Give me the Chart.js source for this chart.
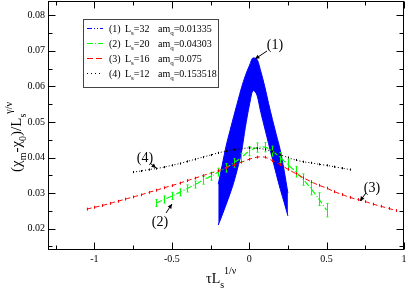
<!DOCTYPE html>
<html><head><meta charset="utf-8">
<script src="https://cdn.jsdelivr.net/npm/chart.js@4/dist/chart.umd.min.js"></script>
<style>html,body{margin:0;padding:0;background:#fff}#c{display:block}</style>
</head><body>
<div style="width:407px;height:288px"><canvas id="c" width="407" height="288"></canvas></div>
<script>
// ---- data ----
const blueX     = [-0.2,-0.175,-0.15,-0.125,-0.1,-0.075,-0.05,-0.025,0,0.025,0.05,0.075,0.1,0.125,0.15,0.175,0.2,0.225,0.25];
const blueUpper = [0.0325,0.0378,0.0431,0.0474,0.0516,0.0556,0.0596,0.0630,0.0657,0.0680,0.0676,0.0642,0.0600,0.0552,0.0507,0.0464,0.0422,0.0365,0.0300];
const blueLower = [0.0210,0.0238,0.0267,0.0297,0.0330,0.0370,0.0415,0.0485,0.0545,0.0588,0.0575,0.0527,0.0483,0.0439,0.0396,0.0353,0.0312,0.0275,0.0236];

const greenX = [-0.6,-0.55,-0.5,-0.45,-0.4,-0.35,-0.3,-0.25,-0.2,-0.15,-0.1,-0.05,0,0.05,0.1,0.15,0.2,0.25,0.3,0.35,0.4,0.45,0.5];
const greenY = [0.0272,0.0282,0.0292,0.0302,0.0313,0.0324,0.0336,0.0347,0.0359,0.0371,0.0385,0.0400,0.0418,0.0428,0.0429,0.0418,0.0400,0.0380,0.0360,0.0338,0.0312,0.0283,0.0252];
const greenErr = [0.0010,0.0010,0.0010,0.0010,0.0010,0.0010,0.0011,0.0011,0.0011,0.0012,0.0012,0.0012,0.0013,0.0013,0.0013,0.0014,0.0014,0.0015,0.0015,0.0016,0.0017,0.0018,0.0019];

const redX = [-1.05,-1.0,-0.95,-0.9,-0.85,-0.8,-0.75,-0.7,-0.65,-0.6,-0.55,-0.5,-0.45,-0.4,-0.35,-0.3,-0.25,-0.2,-0.15,-0.1,-0.05,0,0.05,0.1,0.15,0.2,0.25,0.3,0.35,0.4,0.45,0.5,0.55,0.6,0.65,0.7,0.75,0.8,0.85,0.9,0.95];
const redY = [0.0255,0.0260,0.0265,0.0271,0.0277,0.0283,0.0289,0.0295,0.0302,0.0308,0.0315,0.0321,0.0328,0.0335,0.0342,0.0349,0.0356,0.0363,0.0371,0.0379,0.0387,0.0395,0.0401,0.0401,0.0391,0.0380,0.0367,0.0355,0.0343,0.0332,0.0322,0.0314,0.0304,0.0296,0.0288,0.0282,0.0276,0.0269,0.0263,0.0257,0.0251];
const redErr = 0.0004;

const blackX = [-0.75,-0.7,-0.65,-0.6,-0.55,-0.5,-0.45,-0.4,-0.35,-0.3,-0.25,-0.2,-0.15,-0.1,-0.05,0,0.05,0.1,0.15,0.2,0.25,0.3,0.35,0.4,0.45,0.5,0.55,0.6,0.65];
const blackY = [0.0359,0.0362,0.0366,0.0369,0.0373,0.0378,0.0383,0.0389,0.0395,0.0401,0.0407,0.0413,0.0418,0.0422,0.0425,0.0427,0.0426,0.0423,0.0417,0.0408,0.0400,0.0393,0.0388,0.0385,0.0381,0.0378,0.0374,0.0370,0.0366];
const blackErr = 0.0003;

const xTickValues = [-1,-0.5,0,0.5,1];
const xTickLabels = ['-1','-0.5','0','0.5','1'];
const xMinorTicks = [-1.25,-0.75,-0.25,0.25,0.75];
const yTickValues = [0.02,0.03,0.04,0.05,0.06,0.07,0.08];
const yTickLabels = ['0.02','0.03','0.04','0.05','0.06','0.07','0.08'];
const yMinorTicks = [0.015,0.025,0.035,0.045,0.055,0.065,0.075];

const legendRows = [
  {n:'(1)', L:'32', m:'0.01335', color:'#0000ff', dash:[5,2,1,2,1,2]},
  {n:'(2)', L:'20', m:'0.04303', color:'#00ff00', dash:[6,2,1,2]},
  {n:'(3)', L:'16', m:'0.075',   color:'#ff0000', dash:[6,3]},
  {n:'(4)', L:'12', m:'0.153518',color:'#000000', dash:[1,3]}
];
const annotations = [
  {t:'(1)', x:275, y:45, ax1:267, ay1:51, ax2:255, ay2:59},
  {t:'(4)', x:145, y:158, ax1:150, ay1:163, ax2:156, ay2:168},
  {t:'(2)', x:160, y:222, ax1:166, ay1:213, ax2:172, ay2:204},
  {t:'(3)', x:372, y:188, ax1:366, ay1:193, ax2:360, ay2:201}
];

const pts = (xs, ys) => xs.map((x,i)=>({x:x, y:ys[i]}));
const SERIF = '"Liberation Serif","DejaVu Serif",serif';

function drawErrBars(chart, xs, ys, err, color, w, cap) {
  const c = chart.ctx, xs_ = chart.scales.x, ys_ = chart.scales.y;
  c.save();
  c.strokeStyle = color; c.lineWidth = w || 1;
  xs.forEach((x,i)=>{
    const e = Array.isArray(err) ? err[i] : err;
    const px = Math.round(xs_.getPixelForValue(x)) + 0.5;
    const y1 = ys_.getPixelForValue(ys[i]+e), y2 = ys_.getPixelForValue(ys[i]-e);
    c.beginPath();
    c.moveTo(px, y1); c.lineTo(px, y2);
    if (cap) { c.moveTo(px-cap, y1); c.lineTo(px+cap, y1); c.moveTo(px-cap, y2); c.lineTo(px+cap, y2); }
    c.stroke();
  });
  c.restore();
}

function richText(c, parts, x, y) {
  let cx = x;
  parts.forEach(p=>{
    const [t, mode, size] = p;
    c.font = size + 'px ' + SERIF;
    const dy = mode===1 ? size*0.45 : (mode===2 ? -size*0.9 : 0);
    c.fillText(t, cx, y+dy);
    cx += c.measureText(t).width;
  });
  return cx;
}

const decor = {
  id:'decor',
  afterDatasetsDraw(chart) {
    const a = chart.chartArea;
    const c = chart.ctx;
    c.save();
    c.beginPath(); c.rect(a.left, a.top, a.right-a.left, a.bottom-a.top); c.clip();
    drawErrBars(chart, greenX, greenY, greenErr, '#00ff00', 1, 1);
    drawErrBars(chart, redX, redY, redErr, '#ff0000', 1, 0);
    drawErrBars(chart, blackX, blackY, blackErr, '#000000', 1, 0);
    c.restore();
  },
  afterDraw(chart) {
    const a = chart.chartArea, c = chart.ctx;
    const sx = chart.scales.x, sy = chart.scales.y;
    const L = a.left+0.5, R = a.right-0.5, T = a.top+0.5, B = a.bottom-0.5;
    c.save();
    c.strokeStyle = '#000'; c.lineWidth = 1;
    c.strokeRect(L, T, R-L, B-T);
    c.beginPath();
    const tx = (v, len) => { const p = Math.round(sx.getPixelForValue(v))+0.5;
      c.moveTo(p, B); c.lineTo(p, B-len); c.moveTo(p, T); c.lineTo(p, T+len); };
    const ty = (v, len) => { const p = Math.round(sy.getPixelForValue(v))+0.5;
      c.moveTo(L, p); c.lineTo(L+len, p); c.moveTo(R, p); c.lineTo(R-len, p); };
    xTickValues.forEach(v=>tx(v,7)); xMinorTicks.forEach(v=>tx(v,4));
    yTickValues.forEach(v=>ty(v,7)); yMinorTicks.forEach(v=>ty(v,4));
    c.stroke();
    c.fillStyle = '#000';
    c.font = '10px ' + SERIF;
    c.textAlign = 'center'; c.textBaseline = 'alphabetic';
    xTickValues.forEach((v,i)=>c.fillText(xTickLabels[i], sx.getPixelForValue(v), 262));
    c.textAlign = 'right'; c.textBaseline = 'middle';
    yTickValues.forEach((v,i)=>c.fillText(yTickLabels[i], 45, sy.getPixelForValue(v)));
    c.textBaseline = 'alphabetic'; c.textAlign = 'left';
    richText(c, [['τL',0,14],['s',1,10],['1/ν',2,10]], 206, 283);
    c.save();
    c.translate(21, 172); c.rotate(-Math.PI/2);
    richText(c, [['(χ',0,15],['m',1,10],['-χ',0,15],['0',1,10],[')/L',0,15],['s',1,10],['γ/ν',2,10]], 0, 0);
    c.restore();
    c.fillStyle = '#fff';
    c.fillRect(83, 19, 135, 68);
    c.strokeStyle = '#444'; c.lineWidth = 1;
    c.strokeRect(83.5, 19.5, 135, 68);
    legendRows.forEach((r,i)=>{
      const yy = 28.5 + i*15;
      c.save();
      c.strokeStyle = r.color; c.lineWidth = 1; c.setLineDash(r.dash);
      c.beginPath(); c.moveTo(87, yy); c.lineTo(103, yy); c.stroke();
      c.restore();
      c.fillStyle = '#000';
      c.font = '10px ' + SERIF;
      c.fillText(r.n, 109, yy+3.5);
      richText(c, [['L',0,10],['s',1,7],['='+r.L,0,10]], 125, yy+3.5);
      richText(c, [['am',0,10],['q',1,7],['='+r.m,0,10]], 158, yy+3.5);
    });
    c.fillStyle = '#000'; c.strokeStyle = '#000';
    annotations.forEach(an=>{
      c.font = '14px ' + SERIF;
      c.textAlign = 'center'; c.textBaseline = 'middle';
      c.fillText(an.t, an.x, an.y);
      c.beginPath(); c.moveTo(an.ax1, an.ay1); c.lineTo(an.ax2, an.ay2); c.lineWidth = 1; c.stroke();
      const ang = Math.atan2(an.ay2-an.ay1, an.ax2-an.ax1), h = 5;
      c.beginPath();
      c.moveTo(an.ax2, an.ay2);
      c.lineTo(an.ax2 - h*Math.cos(ang-0.45), an.ay2 - h*Math.sin(ang-0.45));
      c.lineTo(an.ax2 - h*Math.cos(ang+0.45), an.ay2 - h*Math.sin(ang+0.45));
      c.closePath(); c.fill();
    });
    c.restore();
  }
};

new Chart(document.getElementById('c'), {
  type:'scatter',
  data:{datasets:[
    {label:'blueU', data:pts(blueX,blueUpper), showLine:true, borderColor:'#0000ff', backgroundColor:'#0000ff', borderWidth:1, pointRadius:0, fill:'+1', cubicInterpolationMode:'monotone', order:10},
    {label:'blueL', data:pts(blueX,blueLower), showLine:true, borderColor:'#0000ff', backgroundColor:'#0000ff', borderWidth:1, pointRadius:0, fill:false, cubicInterpolationMode:'monotone', order:11},
    {label:'(2)', data:pts(greenX,greenY), showLine:true, borderColor:'#00ff00', borderWidth:1.2, borderDash:[6,2,1,2], pointRadius:0, tension:0.3, order:3},
    {label:'(3)', data:pts(redX,redY), showLine:true, borderColor:'#ff0000', borderWidth:1, borderDash:[5,3], pointRadius:0, tension:0.3, order:2},
    {label:'(4)', data:pts(blackX,blackY), showLine:true, borderColor:'#000000', borderWidth:1, borderDash:[1,2], pointRadius:0, tension:0.3, order:1}
  ]},
  options:{
    responsive:false, animation:false, devicePixelRatio:1,
    layout:{padding:{left:48, top:1, right:3, bottom:38}},
    plugins:{legend:{display:false}, tooltip:{enabled:false}},
    scales:{
      x:{type:'linear', min:-1.3, max:1, display:false},
      y:{type:'linear', min:0.014, max:0.084, display:false}
    }
  },
  plugins:[decor]
});
</script>
</body></html>
